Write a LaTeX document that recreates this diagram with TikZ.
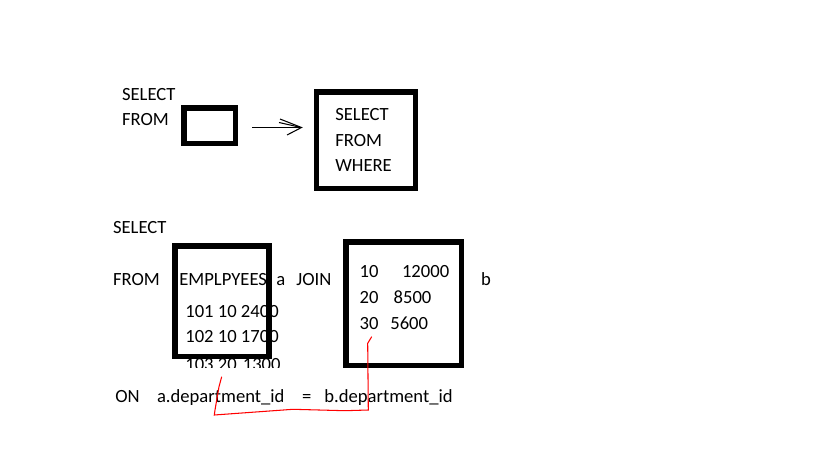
\documentclass[tikz,border=0pt]{standalone}
\usepackage{fontspec}
\setmainfont{Carlito}
\begin{document}
\begin{tikzpicture}[x=0.02cm,y=-0.02cm,
   every node/.style={font=\fontsize{10.6}{13}\selectfont, inner sep=0pt},
   word/.style={anchor=base west},
   thickbox/.style={draw, line width=3.1pt},
   thinline/.style={line width=0.6pt}]
   \useasboundingbox (0,0) rectangle (819,460);

   % Top part - subquery in FROM
   \begin{scope}
       \node[word] (sela) at (121.7,100) {SELECT};
       \node[word] (froma) at (121.7,125) {FROM};
       \node[thickbox, minimum width=1.03cm, minimum height=0.71cm] (inbox) at (209.7,125.8) {};

       % Arrow
       \coordinate (arrfrom) at (252,127.5);
       \coordinate (arrtip) at (301.5,127.5);
       \draw[thinline] (arrfrom) -- (arrtip);
       \draw[thinline] (280,119) -- (arrtip) -- (287,135);
       \draw[thinline] (279,122.5) -- (299,127);

       % Outer query
       \node[thickbox, minimum width=1.98cm, minimum height=1.93cm] (outbox) at (365.8,140.3) {};
       \node[word] (selb) at (335,120) {SELECT};
       \node[word] (fromb) at (335,146) {FROM};
       \node[word] (whereb) at (335,171.7) {WHERE};
   \end{scope}

   % Bottom part - join of two tables
   \begin{scope}
       \node[word] (selc) at (112.7,233.3) {SELECT};
       \node[word] (fromc) at (112.7,285) {FROM};
       \node[word] (emp) at (179,285) {EMPLPYEES};
       \node[word] (alias a) at (276,285) {a};
       \node[word] (join) at (296,285) {JOIN};
       \node[word] (alias b) at (480.7,285) {b};

       % Rows of the first table
       \node[word] (rowa) at (185,317.3) {101 10 2400};
       \node[word] (rowb) at (185,342.7) {102 10 1700};
       \begin{scope}
           \clip (150,345) rectangle (320,367);
           \node[word] (rowc) at (185,370.7) {103 20 \hspace{0.1em}1300};
       \end{scope}

       % Rows of the second table
       \node[word] (ida) at (359.3,277.3) {10};
       \node[word] (sala) at (401.7,277.3) {12000};
       \node[word] (idb) at (359.3,303.3) {20};
       \node[word] (salb) at (393.3,303.3) {8500};
       \node[word] (idc) at (359.3,329.3) {30};
       \node[word] (salc) at (390,329.3) {5600};

       % Table boxes
       \node[thickbox, minimum width=1.88cm, minimum height=2.21cm] (tablea) at (222,301.2) {};
       \node[thickbox, minimum width=2.31cm, minimum height=2.47cm] (tableb) at (403.7,303.7) {};

       % Join condition
       \node[word] (on) at (115,402.7) {ON};
       \node[word] (keya) at (156.7,402.7) {a.department\_id};
       \node[word] (eq) at (301.7,402.7) {=};
       \node[word] (keyb) at (324,402.7) {b.department\_id};

       % Red link between the two ids
       \coordinate (linka) at (221.7,376.7);
       \coordinate (linkb) at (371.7,336.7);
       \draw[red, thinline] (linka) -- (219,386.7) -- (215,410) -- (214.3,415)
           -- (293,409.3) -- (345,410.7) -- (368.3,410) -- (367.7,343.3) -- (linkb);
   \end{scope}
\end{tikzpicture}
\end{document}
